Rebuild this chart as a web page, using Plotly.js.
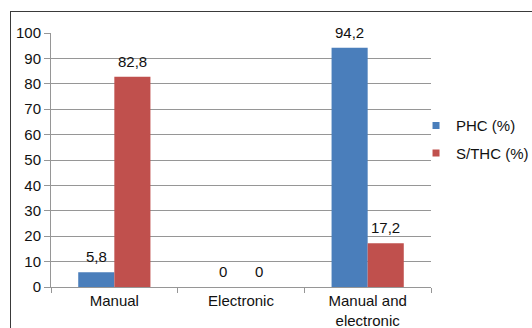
<!DOCTYPE html>
<html>
<head>
<meta charset="utf-8">
<script src="https://cdn.plot.ly/plotly-3.0.1.min.js"></script>
<style>
  html, body { margin: 0; padding: 0; background: #fff; overflow: hidden; }
  #wrap { position: relative; width: 532px; height: 328px; }
  #chart { position: absolute; left: 0; top: 0; width: 532px; height: 328px; }
  #frame { position: absolute; left: 10px; top: 11px; width: 540px; height: 340px;
           border: 1px solid #3a3a3a; box-sizing: border-box; pointer-events: none; }
</style>
</head>
<body>
<div id="wrap">
  <div id="chart"></div>
  <div id="frame"></div>
</div>
<script>
// Payment method categories and shares per facility type
const categories = ["Manual", "Electronic", "Manual and<br>electronic"];
const phcValues = [5.8, 0, 94.2];
const sthcValues = [82.8, 0, 17.2];
const seriesNames = ["PHC (%)", "S/THC (%)"];
const yTicks = [0, 10, 20, 30, 40, 50, 60, 70, 80, 90, 100];

const BLUE = "#4a7ebb";
const RED = "#c0504d";
const GRID = "#969696";
const INK = "#111";
const FONT = "Liberation Sans, Arial, sans-serif";
const FS = 15;

// labels use a decimal comma
const fmt = v => String(v).replace(".", ",");

function barTrace(name, values, color) {
  return {
    type: "bar",
    name: name,
    x: categories,
    y: values,
    marker: { color: color, line: { width: 0 } },
    showlegend: false,
    hoverinfo: "skip"
  };
}

// small square legend keys
function legendKey(name, color, group) {
  return {
    type: "scatter",
    mode: "markers",
    name: name,
    x: [null],
    y: [null],
    legendgroup: group,
    marker: { symbol: "square", size: 7, color: color },
    showlegend: true
  };
}

const data = [
  barTrace(seriesNames[0], phcValues, BLUE),
  barTrace(seriesNames[1], sthcValues, RED),
  legendKey(seriesNames[0], BLUE, "a"),
  legendKey(seriesNames[1], RED, "b")
];

// value labels above each bar; the pair sits left/right of the category centre
function valueLabels(values, shift) {
  return values.map((v, i) => ({
    x: categories[i],
    y: v,
    xref: "x",
    yref: "y",
    text: fmt(v),
    showarrow: false,
    xanchor: "center",
    yanchor: "bottom",
    xshift: shift,
    yshift: 5,
    font: { family: FONT, size: FS, color: INK }
  }));
}

const layout = {
  width: 532,
  height: 328,
  margin: { l: 51, r: 101, t: 33, b: 41, pad: 0, autoexpand: false },
  paper_bgcolor: "#fff",
  plot_bgcolor: "#fff",
  font: { family: FONT, size: FS, color: INK },
  barmode: "group",
  bargap: 0.43,
  bargroupgap: 0,
  xaxis: {
    type: "category",
    showline: true,
    linecolor: GRID,
    linewidth: 1,
    ticks: "outside",
    tickson: "boundaries",
    ticklen: 5,
    tickcolor: GRID,
    showgrid: false,
    tickfont: { family: FONT, size: FS, color: INK },
    fixedrange: true
  },
  yaxis: {
    range: [0, 100],
    tickvals: yTicks,
    showline: true,
    linecolor: GRID,
    linewidth: 1,
    ticks: "outside",
    ticklen: 6,
    tickcolor: GRID,
    showgrid: true,
    gridcolor: GRID,
    gridwidth: 1,
    zeroline: false,
    tickfont: { family: FONT, size: FS, color: INK },
    fixedrange: true
  },
  annotations: [...valueLabels(phcValues, -18), ...valueLabels(sthcValues, 18)],
  legend: {
    xref: "container",
    x: 0.782,
    xanchor: "left",
    y: 0.70,
    yanchor: "top",
    tracegroupgap: 5,
    itemwidth: 30,
    font: { family: FONT, size: FS, color: INK },
    bgcolor: "rgba(0,0,0,0)"
  }
};

Plotly.newPlot("chart", data, layout, { displayModeBar: false, staticPlot: true });
</script>
</body>
</html>
